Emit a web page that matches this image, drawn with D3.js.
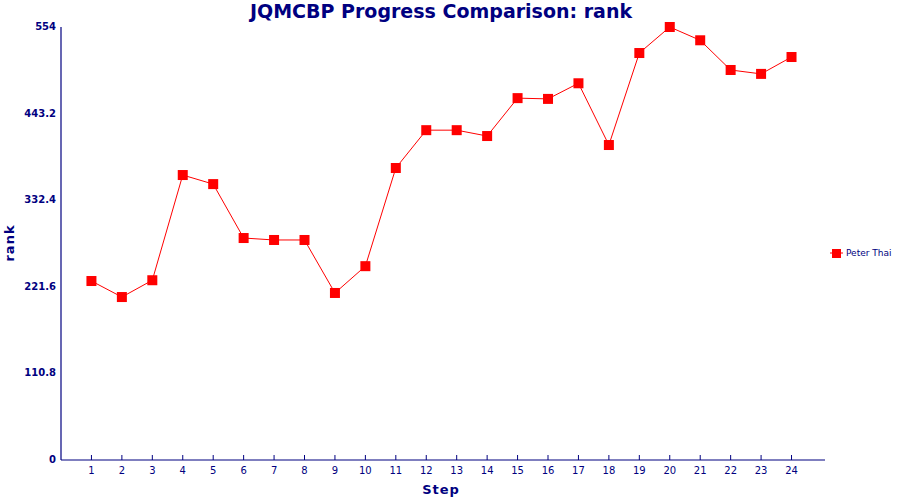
<!DOCTYPE html>
<html><head><meta charset="utf-8">
<script src="https://cdn.jsdelivr.net/npm/d3@7"></script>
<style>body{margin:0;background:#fff}text{font-family:"DejaVu Sans",sans-serif;fill:#000080}</style>
</head><body><svg id="c" width="900" height="500"></svg>
<script>
const steps = d3.range(1, 25);
const rank = [229, 208.5, 230, 364.6, 353, 284, 281.5, 281.5, 213.7, 248, 373.6, 422, 422, 414.5, 463, 462, 482, 403, 520.7, 554, 537, 499, 494, 515.6];
const yTicks = [0, 110.8, 221.6, 332.4, 443.2, 554];
const seriesName = "Peter Thai";

const svg = d3.select("#c");
const navy = "#000080";
const x = d3.scaleLinear().domain([0, 25.1]).range([61, 825]);
const y = d3.scaleLinear().domain([0, 554]).range([460, 27]);

svg.append("text").attr("x", 441).attr("y", 18).attr("text-anchor", "middle")
  .style("font-size", "19px").style("font-weight", "bold").text("JQMCBP Progress Comparison: rank");

// axes
svg.append("line").attr("x1", 61).attr("x2", 825).attr("y1", 460).attr("y2", 460).attr("stroke", navy).attr("stroke-width", 1.2);
svg.append("line").attr("x1", 61).attr("x2", 61).attr("y1", 27).attr("y2", 460).attr("stroke", navy).attr("stroke-width", 1.2);

svg.selectAll(".xt").data(steps).join("line")
  .attr("x1", d => x(d)).attr("x2", d => x(d)).attr("y1", 460).attr("y2", 455).attr("stroke", navy);
svg.selectAll(".xl").data(steps).join("text")
  .attr("x", d => x(d)).attr("y", 474).attr("text-anchor", "middle").style("font-size", "10px").text(d => d);
svg.selectAll(".yl").data(yTicks).join("text")
  .attr("x", 56).attr("y", d => y(d) + 3).attr("text-anchor", "end")
  .style("font-size", "10px").style("font-weight", "bold").text(d => d);

svg.append("text").attr("x", 441).attr("y", 494).attr("text-anchor", "middle")
  .style("font-size", "13px").style("font-weight", "bold").style("letter-spacing", "1px").text("Step");
svg.append("text").attr("transform", "translate(14,243) rotate(-90)").attr("text-anchor", "middle")
  .style("font-size", "13px").style("font-weight", "bold").style("letter-spacing", "1px").text("rank");

const line = d3.line().x((d, i) => x(steps[i])).y(d => y(d));
svg.append("path").datum(rank).attr("d", line).attr("fill", "none").attr("stroke", "red").attr("stroke-width", 1);
svg.selectAll(".pt").data(rank).join("rect")
  .attr("x", (d, i) => x(steps[i]) - 5).attr("y", d => y(d) - 5).attr("width", 10).attr("height", 10).attr("fill", "red");

// legend
svg.append("line").attr("x1", 830).attr("x2", 843).attr("y1", 253).attr("y2", 253).attr("stroke", "red");
svg.append("rect").attr("x", 832).attr("y", 249).attr("width", 9).attr("height", 9).attr("fill", "red");
svg.append("text").attr("x", 846).attr("y", 256).style("font-size", "9px").text(seriesName);
</script></body></html>
